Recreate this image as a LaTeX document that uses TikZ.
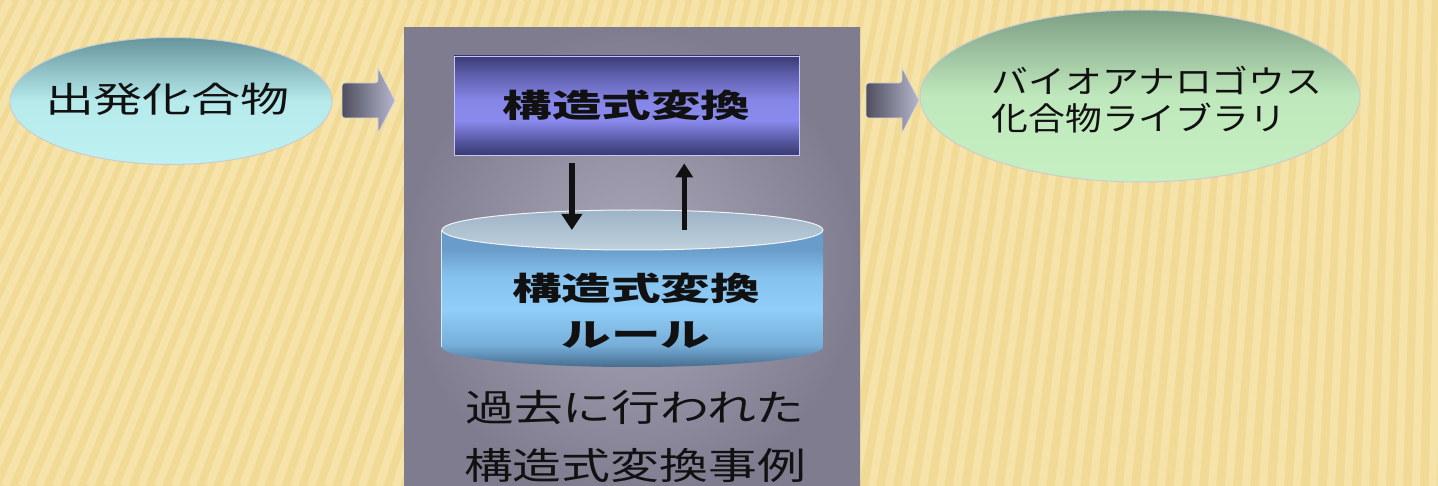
\documentclass[tikz,border=0pt]{standalone}
\usepackage{fontspec}
\usetikzlibrary{shapes.geometric,arrows.meta,calc}
\newfontfamily\jpL[FakeStretch=1.4]{Noto Sans CJK JP}
\newfontfamily\jpT[FakeStretch=1.55]{Noto Sans CJK JP}
\newfontfamily\jpD[FakeStretch=1.32]{Noto Sans CJK JP}
\newfontfamily\jpR[FakeStretch=1.15]{Noto Sans CJK JP}
\definecolor{bgbase}{HTML}{F1DA95}
\definecolor{bgstripe}{HTML}{FBEDBE}
\definecolor{panelin}{HTML}{AAA8B9}
\definecolor{panelout}{HTML}{7E7C8E}
\definecolor{tbnavy}{HTML}{3A3A74}
\definecolor{tbviolet}{HTML}{8A8AEE}
\definecolor{tealtop}{HTML}{66959C}
\definecolor{tealbot}{HTML}{BDF1F2}
\definecolor{greentop}{HTML}{7E9E84}
\definecolor{greenbot}{HTML}{C6F0C2}
\definecolor{arrdark}{HTML}{4E4E5E}
\definecolor{arrlight}{HTML}{B6B6CE}
\definecolor{facea}{HTML}{9DB3C6}
\definecolor{faceb}{HTML}{BFD0DC}
\definecolor{cylA}{HTML}{466C8E}
\definecolor{cylB}{HTML}{76AED8}
\definecolor{cylC}{HTML}{90CDF8}
\definecolor{cylD}{HTML}{86C2EE}
\definecolor{cylE}{HTML}{6A9CCA}
\definecolor{ink}{HTML}{111111}
% stops lie in 25bp..75bp: TikZ fits that band to the path's height
\pgfdeclareverticalshading{transshade}{100bp}{
  color(0bp)=(tbnavy); color(25bp)=(tbnavy); color(31bp)=(tbnavy!70!tbviolet); color(42.5bp)=(tbviolet);
  color(52.5bp)=(tbviolet!95!tbnavy); color(66bp)=(tbnavy!55!tbviolet); color(75bp)=(tbnavy); color(100bp)=(tbnavy)}
\pgfdeclareverticalshading{cylshade}{100bp}{
  color(0bp)=(cylA); color(25bp)=(cylA); color(33bp)=(cylB); color(46bp)=(cylC);
  color(58bp)=(cylD); color(68bp)=(cylE); color(75bp)=(cylE); color(100bp)=(cylE)}
\tikzset{
  oval/.style={ellipse, draw=white!80!black, line width=1pt, inner sep=0pt, text=ink},
  panelbox/.style={rectangle, inner sep=0pt, draw=none, inner color=panelin, outer color=panelout},
  transbox/.style={rectangle, inner sep=0pt, draw=tbviolet!50!white, line width=0.8pt,
    shading=transshade, text=ink},
  label/.style={inner sep=0pt, text=ink},
  linkarrow/.style={line width=5.5pt, draw=ink},
  blockarr/.pic={
    \shade[left color=arrdark, right color=arrlight, draw=white!70!gray, line width=0.6pt]
      [rounded corners=3pt] (-26.5,-17.5) -- (9.5,-17.5) [sharp corners] -- (9.5,-32.5) -- (26.5,0)
      -- (9.5,32.5) -- (9.5,17.5) [rounded corners=3pt] -- (-26.5,17.5) -- cycle;
  }
}
\begin{document}
\begin{tikzpicture}[x=1pt,y=-1pt]
\useasboundingbox (0,0) rectangle (1438,486);
% background
\begin{scope}
  \clip (0,0) rectangle (1438,486);
  \fill[bgbase] (0,0) rectangle (1438,486);
  \foreach \b in {-420,-403,...,1700}{
    \pgfmathsetmacro\t{\b+max(0,210*(1-\b/1500))}
    \draw[bgstripe, line width=8pt, opacity=0.5] (\b,486) -- (\t,0);
  }
  % central panel
  \node[panelbox, minimum width=456pt, minimum height=472pt] (panel) at (632,264) {};
\end{scope}

% start ellipse
\node[oval, top color=tealtop, bottom color=tealbot, middle color=tealbot!92!tealtop,
      minimum width=322pt, minimum height=127pt] (start) at (171,101) {};
\node[label, font=\jpL\fontsize{35pt}{40pt}\selectfont] (starttext) at (167.5,99) {出発化合物};

% block arrows
\pic (arrA) at (368.5,100.5) {blockarr};
\pic (arrB) at (892.5,100.5) {blockarr};

% transformation box
\node[transbox, minimum width=345pt, minimum height=99pt,
      font=\jpT\bfseries\fontsize{32pt}{36pt}\selectfont] (trans) at (626.5,105.5) {構造式変換};

% cylinder (database)
\node[inner sep=0pt, minimum width=381pt, minimum height=157pt] (db) at (632.5,288.5) {};
\coordinate (dbtop) at (632.5,230);
\coordinate (dbtl) at (db.west |- dbtop);
\coordinate (dbtr) at (db.east |- dbtop);
\shade[shading=cylshade]
  (dbtl) -- ++(0,117)
  arc[start angle=180, end angle=360, x radius=190.5pt, y radius=20pt]
  -- (dbtr) -- cycle;
\draw[white!80!cyan, line width=1pt] (dbtl) -- ++(0,117);
\shade[top color=facea, bottom color=faceb, draw=white!85!facea, line width=1pt]
  (dbtop) ellipse[x radius=190.5pt, y radius=20pt];
\node[label, align=center, font=\jpT\bfseries\fontsize{32pt}{46pt}\selectfont] (rules) at (636,311)
  {構造式変換\\ルール};

% vertical arrows
\coordinate (downS) at ($(trans.south west)!0.342!(trans.south east)$);
\coordinate (upS) at ($(trans.south west)!0.667!(trans.south east)$);
\draw[linkarrow, -{Triangle[length=16pt,width=20pt]}]
  ([yshift=-8pt]downS) -- (downS |- dbtop);
\draw[linkarrow, -{Triangle[length=14pt,width=17pt]}]
  (upS |- dbtop) -- ([yshift=-8pt]upS);

% caption in panel
\node[label, align=center, font=\jpD\fontsize{37pt}{58pt}\selectfont] (cases) at (635,436)
  {過去に行われた\\構造式変換事例};

% result ellipse
\node[oval, top color=greentop, bottom color=greenbot, middle color=greenbot!90!greentop,
      minimum width=440pt, minimum height=172pt] (result) at (1140,96) {};
\node[label, align=left, font=\jpR\fontsize{32pt}{37pt}\selectfont] (resulttext) at (1157,100)
  {バイオアナロゴウス\\化合物ライブラリ};
\end{tikzpicture}
\end{document}
